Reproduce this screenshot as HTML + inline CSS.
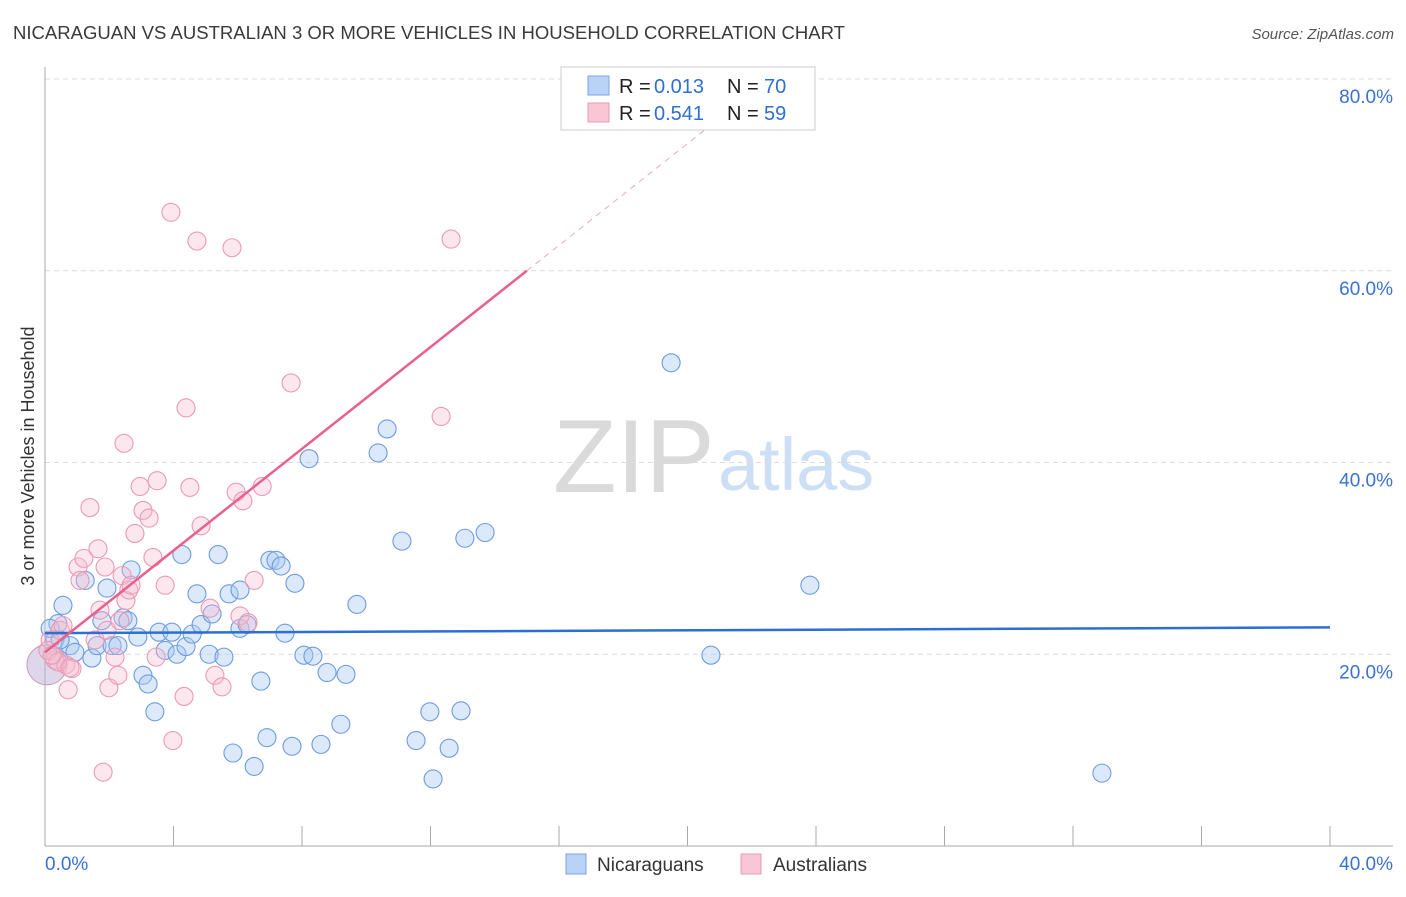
<!DOCTYPE html>
<html><head><meta charset="utf-8"><style>
body{margin:0;background:#fff;font-family:"Liberation Sans",sans-serif;}
svg text{font-family:"Liberation Sans",sans-serif;}
</style></head><body>
<svg id="chart" width="1406" height="892" viewBox="0 0 1406 892" xmlns="http://www.w3.org/2000/svg">
<text x="13" y="39" font-size="18" fill="#3a3a3a" textLength="832" lengthAdjust="spacingAndGlyphs">NICARAGUAN VS AUSTRALIAN 3 OR MORE VEHICLES IN HOUSEHOLD CORRELATION CHART</text>
<text x="1394" y="39" font-size="15" fill="#555" font-style="italic" text-anchor="end">Source: ZipAtlas.com</text>
<g>
<text x="553" y="492" font-size="104" fill="#dadada" font-family="Liberation Serif, serif">ZIP</text>
<text x="718" y="490" font-size="74" fill="#cddff5">atlas</text>
</g>
<g id="grid"></g>
<g id="axes"></g>
<g id="points"></g>
<g id="trends"></g>
<text transform="translate(34,456) rotate(-90)" font-size="18" fill="#333" text-anchor="middle">3 or more Vehicles in Household</text>
<g>
<rect x="561" y="67" width="254" height="63" fill="#fff" stroke="#ccc"/>
<rect x="588" y="76" width="21" height="19" fill="#b8d3f5" stroke="#7aa5e0"/>
<text x="619" y="93" font-size="20" fill="#222">R =</text>
<text x="654" y="93" font-size="20" fill="#2e6fd0">0.013</text>
<text x="727" y="93" font-size="20" fill="#222">N =</text>
<text x="764" y="93" font-size="20" fill="#2e6fd0">70</text>
<rect x="588" y="103" width="21" height="19" fill="#f9c6d5" stroke="#eb9ab3"/>
<text x="619" y="120" font-size="20" fill="#222">R =</text>
<text x="654" y="120" font-size="20" fill="#2e6fd0">0.541</text>
<text x="727" y="120" font-size="20" fill="#222">N =</text>
<text x="764" y="120" font-size="20" fill="#2e6fd0">59</text>
</g>
<g>
<rect x="566" y="854" width="20" height="20" fill="#b8d3f5" stroke="#7aa5e0"/>
<text x="597" y="871" font-size="19" fill="#333">Nicaraguans</text>
<rect x="741" y="854" width="20" height="20" fill="#f9c6d5" stroke="#eb9ab3"/>
<text x="773" y="871" font-size="19" fill="#333">Australians</text>
</g>
</svg>
<script>
const xTicks=[0,4,8,12,16,20,24,28,32,36,40];
const yTicks=[20,40,60,80];
const yTickLabels=["20.0%","40.0%","60.0%","80.0%"];
const xEndLabels=["0.0%","40.0%"];
const blueX=[0.56,0.40,0.31,0.78,0.93,1.25,1.46,1.62,1.93,1.77,2.09,2.27,2.43,2.58,2.68,2.89,3.05,3.21,3.42,3.55,3.74,3.95,4.11,4.26,4.39,4.58,4.73,4.86,5.11,5.20,5.39,5.57,5.73,6.07,6.07,6.29,6.51,6.72,6.91,7.00,7.19,7.35,7.47,7.69,7.78,8.06,8.22,8.34,8.59,8.78,9.21,9.37,9.71,10.37,10.65,11.11,11.55,11.98,12.08,12.58,12.95,13.07,13.70,19.49,20.73,23.81,32.90,5.85,0.16,0.47];
const blueY=[25.1,23.2,21.5,20.9,20.2,27.7,19.6,20.9,26.9,23.5,20.9,20.9,23.8,23.5,28.8,21.8,17.8,16.9,14.0,22.3,20.4,22.3,20.0,30.4,20.8,22.1,26.3,23.1,20.0,24.2,30.4,19.7,26.3,26.7,22.7,23.1,8.3,17.2,11.3,29.8,29.8,29.2,22.2,10.4,27.4,19.9,40.4,19.8,10.6,18.1,12.7,17.9,25.2,41.0,43.5,31.8,11.0,14.0,7.0,10.2,14.1,32.1,32.7,50.4,19.9,27.2,7.6,9.7,22.7,21.5];
const pinkX=[0.16,0.31,0.47,0.56,0.65,0.72,0.84,1.03,1.09,1.21,1.40,1.56,1.65,1.71,1.81,1.87,1.93,1.99,2.18,2.27,2.33,2.40,2.46,2.52,2.61,2.68,2.80,2.96,3.05,3.24,3.36,3.46,3.49,3.74,3.92,3.98,4.33,4.39,4.51,4.73,4.86,5.14,5.29,5.51,5.82,5.95,6.07,6.16,6.32,6.51,6.76,7.66,12.33,12.64,0.09,0.40,0.78,0.22];
const pinkY=[21.5,19.4,22.5,23.0,18.9,16.3,18.5,29.1,27.7,30.0,35.3,21.5,31.0,24.6,7.7,29.1,22.5,16.5,19.7,17.8,23.5,28.2,42.0,25.6,26.7,27.2,32.6,37.5,35.0,34.2,30.1,19.7,38.1,27.2,66.1,11.0,15.6,45.7,37.4,63.1,33.4,24.8,17.8,16.6,62.4,36.9,24.0,36.0,23.3,27.7,37.5,48.3,44.8,63.3,20.4,19.2,18.6,19.9];
const bigPoint=[0.06,18.9];
const blueTrend=[22.2,22.8];
const pinkTrend=[20.2,60.0];
const pinkTrendSolidEnd=15.0, pinkTrendDashEnd=20.86;

const X0=45,X1=1330,Y0=846,Y80=79;
const sx=v=>X0+(v/40)*(X1-X0);
const sy=v=>Y0-(v/80)*(Y0-Y80);
const NS="http://www.w3.org/2000/svg";
function mk(tag,parent,attrs){const e=document.createElementNS(NS,tag);for(const k in attrs)e.setAttribute(k,attrs[k]);document.getElementById(parent).appendChild(e);return e;}

yTicks.forEach((t,i)=>{
  const g=mk('line','grid',{x1:X0,x2:1393,y1:sy(t),y2:sy(t),stroke:'#dcdcdc','stroke-dasharray':'5,4'});
  
  
  const l=mk('text','grid',{x:1393,y:sy(t)+24,'font-size':19,fill:'#3a72d0','text-anchor':'end'});
  l.textContent=yTickLabels[i];
  
  
});
const ay=mk('line','axes',{x1:X0,x2:X0,y1:67,y2:Y0,stroke:'#aaa'});


const ax=mk('line','axes',{x1:X0,x2:1393,y1:Y0,y2:Y0,stroke:'#aaa'});


xTicks.forEach(t=>{
  const tk=mk('line','axes',{x1:sx(t),x2:sx(t),y1:826,y2:Y0,stroke:'#aaa'});
  
  
});
const xl0=mk('text','axes',{x:45,y:870,'font-size':19,fill:'#3a72d0'});xl0.textContent=xEndLabels[0];


const xl1=mk('text','axes',{x:1393,y:870,'font-size':19,fill:'#3a72d0','text-anchor':'end'});xl1.textContent=xEndLabels[1];



const bb=mk('circle','points',{cx:sx(bigPoint[0]),cy:sy(bigPoint[1]),r:20,fill:'rgba(190,175,215,0.5)',stroke:'#c79ab8'});


blueX.forEach((x,i)=>{
  const c=mk('circle','points',{cx:sx(x),cy:sy(blueY[i]),r:9,fill:'rgba(168,200,242,0.4)',stroke:'#6d9be0','stroke-width':1.1});
  
  
});
pinkX.forEach((x,i)=>{
  const c=mk('circle','points',{cx:sx(x),cy:sy(pinkY[i]),r:9,fill:'rgba(246,186,205,0.35)',stroke:'#eb9ab3','stroke-width':1.1});
  
  
});
const bt=mk('line','trends',{x1:sx(0),y1:sy(blueTrend[0]),x2:sx(40),y2:sy(blueTrend[1]),stroke:'#2a6fd4','stroke-width':2.5});


const slope=(pinkTrend[1]-pinkTrend[0])/pinkTrendSolidEnd;
const pt=mk('line','trends',{x1:sx(0),y1:sy(pinkTrend[0]),x2:sx(pinkTrendSolidEnd),y2:sy(pinkTrend[1]),stroke:'#e8608c','stroke-width':2.5});


const pd=mk('line','trends',{x1:sx(pinkTrendSolidEnd),y1:sy(pinkTrend[1]),x2:sx(pinkTrendDashEnd),y2:sy(pinkTrend[0]+slope*pinkTrendDashEnd),stroke:'#f0a8bf','stroke-width':1,'stroke-dasharray':'6,5'});


</script>
</body></html>
